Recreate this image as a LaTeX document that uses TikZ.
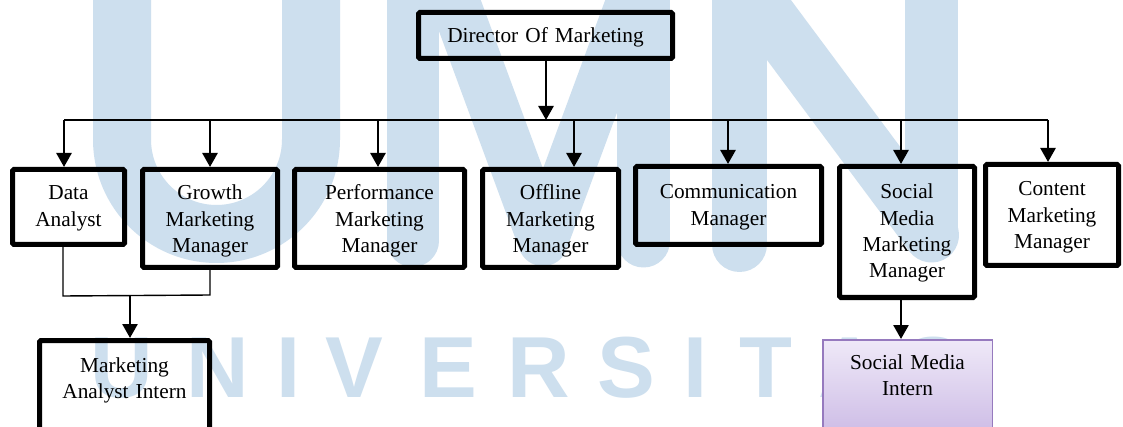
\documentclass[tikz,border=0pt]{standalone}
\usepackage{fontspec}
\setmainfont{Liberation Serif}
\newfontfamily\wmfont{Liberation Sans}
\usetikzlibrary{arrows.meta,calc}
\definecolor{wm}{RGB}{205,223,238}
\definecolor{smtop}{RGB}{239,233,248}
\definecolor{smbot}{RGB}{196,176,225}
\definecolor{smline}{RGB}{150,122,190}
\tikzset{
  frame/.style={draw=black, line width=5pt, rounded corners=1.5pt, inner sep=0pt},
  pframe/.style={draw=smline, line width=1.5pt, top color=smtop, bottom color=smbot, inner sep=0pt},
  lbl/.style={anchor=base, text width=200pt, align=center, inner sep=0pt,
              font=\fontsize{21.3}{26.3}\selectfont},
  wmletter/.style={anchor=base, inner sep=0pt, text=wm,
              font=\wmfont\bfseries\fontsize{86.6}{90}\selectfont},
  bus/.style={draw=black, line width=1.4pt},
  thinl/.style={draw=black, line width=1.4pt},
  arr/.style={draw=black, line width=2.6pt, -{Triangle[width=15pt,length=14pt]}},
}
\begin{document}
\begin{tikzpicture}[x=1pt,y=-1pt]
\useasboundingbox (0,0) rectangle (1123,427);
\clip (0,0) rectangle (1123,427);
\fill[white] (0,0) rectangle (1123,427);
% watermark
\begin{scope}[draw=wm, line cap=round, line join=round]
  \draw[line width=58pt] (122,-60) -- (122,139.5) arc[start angle=180,end angle=0,radius=94.5] -- (311,-60);
  \draw[line width=52pt] (412.5,-60) -- (412.5,241);
  \draw[line width=50pt] (432,-60) -- (543,241) -- (654,-60);
  \draw[line width=53pt] (643.5,-60) -- (643.5,241);
  \draw[line width=55pt] (739.5,-60) -- (739.5,244.5);
  \draw[line width=55pt] (739.5,-23) -- (931.5,235);
  \draw[line width=53pt] (931.5,-60) -- (931.5,235);
\end{scope}
\node[wmletter] (w1) at (122,397) {U};
\node[wmletter] (w2) at (218,397) {N};
\node[wmletter] (w3) at (289,397) {I};
\node[wmletter] (w4) at (354.5,397) {V};
\node[wmletter] (w5) at (448.5,397) {E};
\node[wmletter] (w6) at (538.5,397) {R};
\node[wmletter] (w7) at (626,397) {S};
\node[wmletter] (w8) at (696,397) {I};
\node[wmletter] (w9) at (766,397) {T};
\node[wmletter] (w10) at (850,397) {A};
\node[wmletter] (w11) at (933,397) {S};
% boxes
\node[frame, minimum width=254pt, minimum height=46pt] (dir) at (545.5,35.5) {};
\node[frame, minimum width=112pt, minimum height=75pt] (da) at (68.5,207) {};
\node[frame, minimum width=135pt, minimum height=98pt] (gm) at (210,218.5) {};
\node[frame, minimum width=170pt, minimum height=98pt] (pm) at (379.5,218.5) {};
\node[frame, minimum width=136pt, minimum height=98pt] (om) at (550.5,218.5) {};
\node[frame, minimum width=186pt, minimum height=78pt] (cm) at (728.5,205.5) {};
\node[frame, minimum width=135pt, minimum height=131pt] (sm) at (907,232) {};
\node[frame, minimum width=133pt, minimum height=101pt] (ct) at (1052,215) {};
\node[frame, minimum width=170pt, minimum height=117pt] (mai) at (124.5,399) {};
\node[pframe, minimum width=169.5pt, minimum height=119.5pt] (smi) at (907.5,399.5) {};
% labels
\node[lbl] (tdir) at (545.5,43) {Director Of Marketing};
\node[lbl] (tda) at (68.5,200) {Data\\Analyst};
\node[lbl] (tgm) at (210,200) {Growth\\Marketing\\Manager};
\node[lbl] (tpm) at (379.5,200) {Performance\\Marketing\\Manager};
\node[lbl] (tom) at (550.5,200) {Offline\\Marketing\\Manager};
\node[lbl] (tcm) at (728.5,199) {Communication\\Manager};
\node[lbl] (tsm) at (907,199) {Social\\Media\\Marketing\\Manager};
\node[lbl] (tct) at (1052,196) {Content\\Marketing\\Manager};
\node[lbl] (tmai) at (124.5,372) {Marketing\\Analyst Intern};
\node[lbl] (tsmi) at (907.5,369) {Social Media\\Intern};
% connectors
\coordinate (a1) at (64,120);
\coordinate (a2) at (210,120);
\coordinate (a3) at (378,120);
\coordinate (a4) at (574,120);
\coordinate (a5) at (728,120);
\coordinate (a6) at (901,120);
\coordinate (a7) at (1048,120);
\coordinate (dd) at (546,120);
\draw[bus] (a1) -- (a7);
\draw[arr] (dd |- dir.south) -- (dd);
\draw[arr] (a1) -- (a1 |- da.north);
\draw[arr] (a2) -- (a2 |- gm.north);
\draw[arr] (a3) -- (a3 |- pm.north);
\draw[arr] (a4) -- (a4 |- om.north);
\draw[arr] (a5) -- (a5 |- cm.north);
\draw[arr] (a6) -- (a6 |- sm.north);
\draw[arr] (a7) -- (a7 |- ct.north);
\coordinate (jl) at (63,296);
\coordinate (jr) at (210,295);
\coordinate (jm) at (130,295.5);
\draw[thinl] (jl |- da.south) -- (jl) -- (jr) -- (jr |- gm.south);
\draw[arr] (jm) -- (jm |- mai.north);
\draw[arr] (a6 |- sm.south) -- (a6 |- smi.north);
\end{tikzpicture}
\end{document}
